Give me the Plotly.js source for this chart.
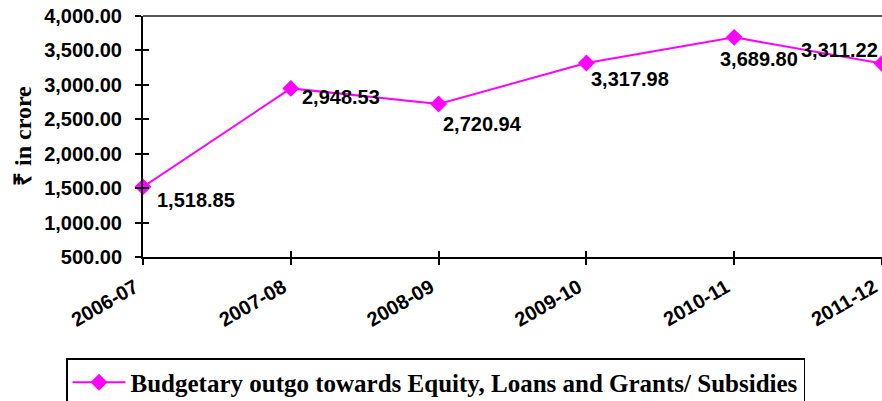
<!DOCTYPE html>
<html>
<head>
<meta charset="utf-8">
<script src="https://cdn.plot.ly/plotly-3.0.1.min.js"></script>
<style>html,body{margin:0;padding:0;background:#fff;}#chart{width:882px;height:401px;}</style>
</head>
<body>
<div id="chart"></div>
<script>
// Data
const categories = ["2006-07", "2007-08", "2008-09", "2009-10", "2010-11", "2011-12"];
const outgo = [1518.85, 2948.53, 2720.94, 3317.98, 3689.80, 3311.22];
const labelTexts = ["1,518.85", "2,948.53", "2,720.94", "3,317.98", "3,689.80", "3,311.22"];
const seriesName = "Budgetary outgo towards Equity, Loans and Grants/ Subsidies";
const yTitle = "₹ in crore";

// Label placement (styles, pixels)
const labelAnchor = ["left", "left", "left", "left", "left", "right"];
const labelDx = [12, 9, 2, 3, -16, -2];
const labelDy = [-13, -9, -20, -16, -22, 13];

const magenta = "#FF00FF";
const sansBold = {family: "Liberation Sans, Arial, sans-serif", size: 20, color: "#000", weight: 700};
const serifBold = {family: "Liberation Serif, Times New Roman, serif", color: "#000", weight: 700};

const trace = {
  x: categories,
  y: outgo,
  type: "scatter",
  mode: "lines+markers",
  name: seriesName,
  line: {color: magenta, width: 2},
  marker: {symbol: "diamond", size: 13, color: magenta},
  cliponaxis: false,
  hoverinfo: "none"
};

const annotations = categories.map((c, i) => ({
  x: c, y: outgo[i], xref: "x", yref: "y",
  text: labelTexts[i], showarrow: false,
  xanchor: labelAnchor[i], yanchor: "middle",
  xshift: labelDx[i], yshift: labelDy[i],
  font: sansBold
}));

// axis title drawn as a rotated paper-anchored annotation
annotations.push({
  xref: "paper", yref: "paper", x: (23 - 143) / 739, y: (257 - 136) / 241,
  xanchor: "center", yanchor: "middle", textangle: -90, showarrow: false,
  text: yTitle, font: Object.assign({size: 24}, serifBold)
});

const layout = {
  width: 882, height: 401,
  margin: {l: 143, r: 0, t: 16, b: 144, autoexpand: false},
  paper_bgcolor: "#fff", plot_bgcolor: "#fff",
  showlegend: true,
  legend: {
    xref: "container", yref: "container",
    x: 66/882, y: 1 - 358/401, xanchor: "left", yanchor: "top",
    bordercolor: "#000", borderwidth: 1.5, bgcolor: "#fff",
    itemwidth: 53,
    font: Object.assign({size: 25}, serifBold)
  },
  xaxis: {
    type: "category", range: [0, 5], automargin: false,
    showline: true, linecolor: "#000", linewidth: 2,
    ticks: "outside", ticklen: 6, tickwidth: 2, tickcolor: "#000",
    tickangle: -30, tickfont: sansBold, ticklabelstandoff: 3, ticklabelshift: -8,
    showgrid: false, zeroline: false, fixedrange: true
  },
  xaxis2: {
    overlaying: "x", anchor: "y", type: "linear", range: [0, 5], dtick: 1, automargin: false,
    ticks: "inside", ticklen: 6, tickwidth: 2, tickcolor: "#000",
    showticklabels: false, showline: false, showgrid: false, zeroline: false
  },
  yaxis: {
    range: [500, 4000], dtick: 500, tickformat: ",.2f", automargin: false,
    showline: true, linecolor: "#000", linewidth: 2,
    ticks: "outside", ticklen: 6, tickwidth: 2, tickcolor: "#000",
    tickfont: sansBold, ticklabelstandoff: 9,
    showgrid: false, zeroline: false, fixedrange: true
  },
  yaxis2: {
    overlaying: "y", anchor: "x", range: [500, 4000], dtick: 500, automargin: false,
    ticks: "inside", ticklen: 6, tickwidth: 2, tickcolor: "#000",
    showticklabels: false, showline: false, showgrid: false, zeroline: false
  },
  shapes: [{
    type: "line", xref: "paper", yref: "paper", x0: 0, x1: 1, y0: 1, y1: 1,
    line: {color: "#222", width: 1.5}
  }],
  annotations: annotations
};

const helper = {x: [0], y: [500], xaxis: "x2", yaxis: "y2", type: "scatter", mode: "markers",
  marker: {opacity: 0}, showlegend: false, hoverinfo: "none"};

Plotly.newPlot("chart", [trace, helper], layout, {displayModeBar: false, staticPlot: true});
</script>
</body>
</html>
